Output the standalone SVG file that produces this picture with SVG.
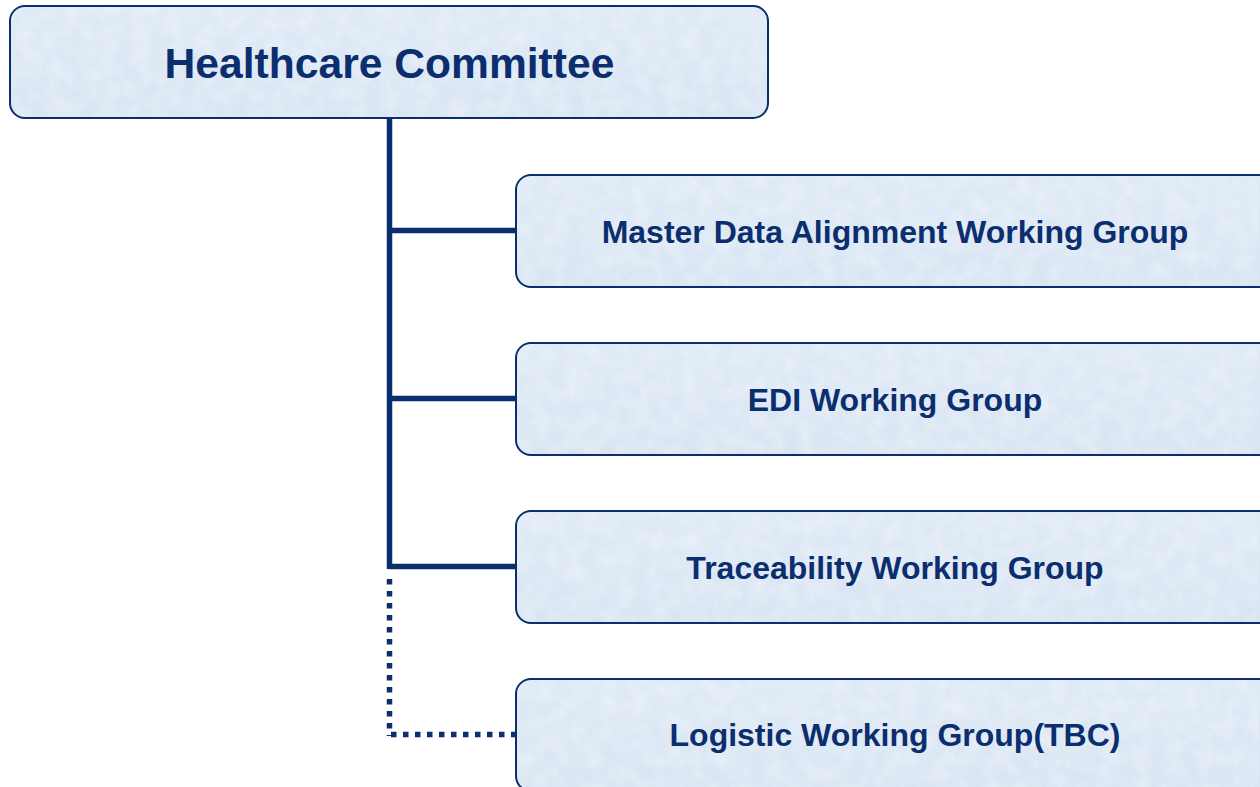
<svg xmlns="http://www.w3.org/2000/svg" width="1260" height="787" viewBox="0 0 1260 787">
<style>
.box{fill:url(#bg);stroke:#0b2f6e;stroke-width:2}
.tex{fill:#ffffff;opacity:0.35;filter:url(#tx)}
.t{font-family:"Liberation Sans",Arial,sans-serif;font-weight:bold;fill:#0b2f6e;text-anchor:middle}
.title{font-size:42.6px}
.lbl{font-size:32px}
.ln{stroke:#0b2f6e;stroke-width:5.5;fill:none}
.dot{stroke:#0b2f6e;stroke-width:5.5;fill:none;stroke-dasharray:5.5 6.5}
</style>
<defs>
<linearGradient id="bg" x1="0" y1="0" x2="0" y2="1">
<stop offset="0" stop-color="#dfeaf6"/>
<stop offset="1" stop-color="#d9e5f3"/>
</linearGradient>
<filter id="tx" x="0" y="0" width="1" height="1">
<feTurbulence type="fractalNoise" baseFrequency="0.06" numOctaves="3" seed="4"/>
<feColorMatrix type="matrix" values="0 0 0 0 1  0 0 0 0 1  0 0 0 0 1  0 0 0 -1.6 1.1"/>
<feComposite in2="SourceGraphic" operator="in"/>
</filter>
</defs>
<g id="connectors">
<line class="ln" x1="389.5" y1="118" x2="389.5" y2="569"/>
<line class="ln" x1="389.5" y1="230.5" x2="516" y2="230.5"/>
<line class="ln" x1="389.5" y1="398.5" x2="516" y2="398.5"/>
<line class="ln" x1="389.5" y1="566.5" x2="516" y2="566.5"/>
<line class="dot" x1="389.5" y1="579" x2="389.5" y2="736"/>
<line class="dot" x1="391" y1="734.5" x2="516" y2="734.5"/>
</g>
<g id="healthcare-committee">
<rect class="box" x="10" y="6" width="758" height="112" rx="15"/>
<rect class="tex" x="11" y="7" width="756" height="110" rx="14"/>
<text class="t title" x="389.5" y="78">Healthcare Committee</text>
</g>
<g id="master-data">
<rect class="box" x="516" y="175" width="760" height="112" rx="15"/>
<rect class="tex" x="517" y="176" width="742" height="110" rx="14"/>
<text class="t lbl" x="895" y="242.5">Master Data Alignment Working Group</text>
</g>
<g id="edi">
<rect class="box" x="516" y="343" width="760" height="112" rx="15"/>
<rect class="tex" x="517" y="344" width="742" height="110" rx="14"/>
<text class="t lbl" x="895" y="410.5">EDI Working Group</text>
</g>
<g id="traceability">
<rect class="box" x="516" y="511" width="760" height="112" rx="15"/>
<rect class="tex" x="517" y="512" width="742" height="110" rx="14"/>
<text class="t lbl" x="895" y="578.5">Traceability Working Group</text>
</g>
<g id="logistic">
<rect class="box" x="516" y="679" width="760" height="112" rx="15"/>
<rect class="tex" x="517" y="680" width="742" height="110" rx="14"/>
<text class="t lbl" x="895" y="746">Logistic Working Group(TBC)</text>
</g>
</svg>
